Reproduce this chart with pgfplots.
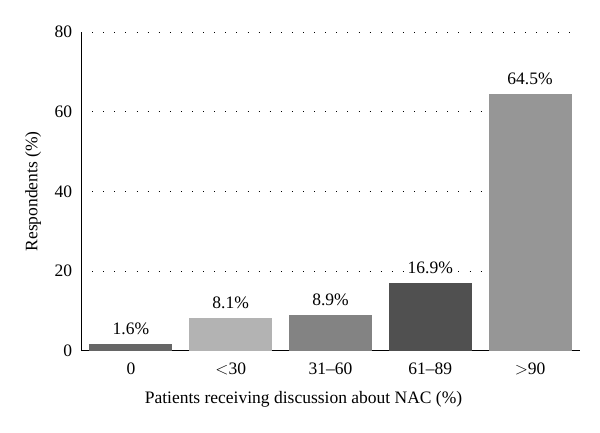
\documentclass[border=0pt]{standalone}
\usepackage{pgfplots}
\pgfplotsset{compat=1.18}
\usepackage{fontspec}
\setmainfont{Liberation Serif}
\definecolor{cA}{HTML}{666666}
\definecolor{cB}{HTML}{B3B3B3}
\definecolor{cC}{HTML}{838383}
\definecolor{cD}{HTML}{505050}
\definecolor{cE}{HTML}{969696}
\begin{document}
\fontsize{17}{20}\selectfont
\begin{tikzpicture}[x=1pt,y=1pt]
\path[use as bounding box] (0,0) rectangle (600,432);
\begin{axis}[
  at={(81pt,81.3pt)}, anchor=south west,
  scale only axis, width=499pt, height=318.7pt,
  xmin=-0.5, xmax=4.5, ymin=0, ymax=80,
  axis x line*=bottom, axis y line*=left,
  axis line style={line width=1pt,-},
  xtick={0,1,2,3,4},
  xticklabels={0,{$<$}30,31--60,61--89,{$>$}90},
  ytick={0,20,40,60,80},
  major tick length=0pt,
  ymajorgrids,
  grid style={black, line width=1pt, dash pattern=on 0.9pt off 10.2pt},
  tick label style={font=\fontsize{17.5}{20}\selectfont},
  /pgf/number format/assume math mode=true,
  xticklabel style={yshift=-6pt},
  yticklabel style={xshift=-3pt},
  xlabel={Patients receiving discussion about NAC (\%)},
  ylabel={Respondents (\%)},
  label style={font=\fontsize{17.5}{20}\selectfont},
  xlabel style={yshift=-5pt, xshift=-27pt},
  ylabel style={yshift=2pt},
  ybar, bar width=83pt, bar shift=0pt,
  point meta=explicit symbolic,
  nodes near coords,
  nodes near coords style={font=\fontsize{17.5}{20}\selectfont, yshift=7.5pt, fill=white, inner sep=1.5pt},
  clip=false,
]
\addplot[fill=cA, draw=none] coordinates {(0,1.6) [1.6\%]};
\addplot[fill=cB, draw=none] coordinates {(1,8.1) [8.1\%]};
\addplot[fill=cC, draw=none] coordinates {(2,8.9) [8.9\%]};
\addplot[fill=cD, draw=none] coordinates {(3,16.9) [16.9\%]};
\addplot[fill=cE, draw=none] coordinates {(4,64.5) [64.5\%]};
\end{axis}
\end{tikzpicture}
\end{document}
